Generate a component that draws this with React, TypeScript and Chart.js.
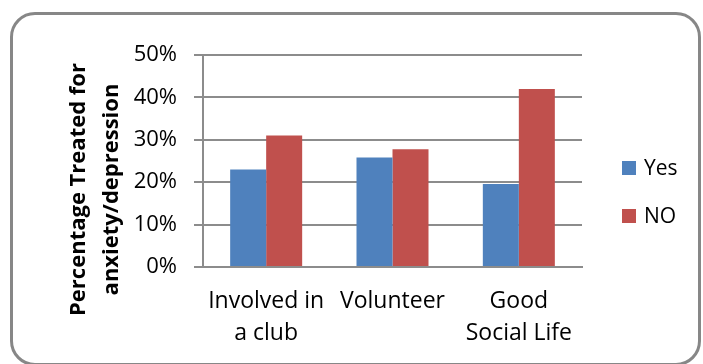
import React, { useEffect, useRef } from 'react';
import { Chart, registerables } from 'chart.js';

Chart.register(...registerables);

const categories: string[][] = [['Involved in', 'a club'], ['Volunteer'], ['Good', 'Social Life']];
const seriesNames = ['Yes', 'NO'];
const yesValues = [23.0, 25.8, 19.6];
const noValues = [31.0, 27.8, 42.0];
const yTickValues = [0, 10, 20, 30, 40, 50];
const yTitleLines = ['Percentage Treated for', 'anxiety/depression'];
const seriesColors = ['#4F81BD', '#C0504D'];

const FONT = "'Open Sans', 'Noto Sans', sans-serif";
const GRID = '#8c8c8c';

const yTitlePlugin = {
  id: 'yTitlePlugin',
  afterDraw(chart: any) {
    const ctx = chart.ctx;
    const area = chart.chartArea;
    const cy = (area.top + chart.height) / 2 - 20;
    ctx.save();
    ctx.fillStyle = '#000';
    ctx.font = `bold 22px ${FONT}`;
    ctx.textAlign = 'center';
    ctx.textBaseline = 'alphabetic';
    const baselines = [area.left - 118, area.left - 85];
    yTitleLines.forEach((line, i) => {
      ctx.save();
      ctx.translate(baselines[i], cy);
      ctx.rotate(-Math.PI / 2);
      ctx.fillText(line, 0, 0);
      ctx.restore();
    });
    ctx.restore();
  },
};

const legendPlugin = {
  id: 'sideLegend',
  afterDraw(chart: any) {
    const ctx = chart.ctx;
    const area = chart.chartArea;
    const x = area.right + 40;
    const mid = (area.top + area.bottom) / 2 + 31;
    const gap = 48;
    ctx.save();
    ctx.font = `21px ${FONT}`;
    ctx.textAlign = 'left';
    ctx.textBaseline = 'middle';
    chart.data.datasets.forEach((ds: any, i: number) => {
      const cy = mid + (i - (chart.data.datasets.length - 1) / 2) * gap;
      ctx.fillStyle = ds.backgroundColor;
      ctx.fillRect(x, cy - 7, 14, 14);
      ctx.fillStyle = '#000';
      ctx.fillText(ds.label, x + 22, cy + 1);
    });
    ctx.restore();
  },
};

export default function App() {
  const ref = useRef<HTMLCanvasElement | null>(null);

  useEffect(() => {
    if (!ref.current) return;
    const chart = new Chart(ref.current, {
      type: 'bar',
      data: {
        labels: categories,
        datasets: [
          { label: seriesNames[0], data: yesValues, backgroundColor: seriesColors[0], borderWidth: 0 },
          { label: seriesNames[1], data: noValues, backgroundColor: seriesColors[1], borderWidth: 0 },
        ],
      },
      options: {
        responsive: false,
        maintainAspectRatio: false,
        animation: false,
        devicePixelRatio: 1,
        layout: { padding: { top: 55, right: 121, bottom: 0, left: 0 } },
        datasets: { bar: { barPercentage: 1, categoryPercentage: 0.57 } },
        plugins: {
          legend: { display: false },
          tooltip: { enabled: false },
          title: { display: false },
        },
        scales: {
          x: {
            grid: { display: false, drawTicks: false },
            border: { display: true, color: GRID, width: 2 },
            ticks: {
              color: '#000',
              font: { family: FONT, size: 23, lineHeight: 1.4 },
              padding: 18,
              maxRotation: 0,
              autoSkip: false,
            },
            afterFit: (s: any) => {
              s.height = 97;
            },
          },
          y: {
            min: 0,
            max: 50,
            afterBuildTicks: (s: any) => {
              s.ticks = yTickValues.map((v) => ({ value: v }));
            },
            grid: { color: GRID, lineWidth: 2, tickLength: 9, drawTicks: true, tickColor: GRID },
            border: { display: true, color: GRID, width: 2 },
            ticks: {
              color: '#000',
              font: { family: FONT, size: 22 },
              padding: 17,
              callback: (v: any) => `${v}%`,
            },
            afterFit: (s: any) => {
              s.width = 203;
            },
          },
        },
      },
      plugins: [yTitlePlugin, legendPlugin],
    });
    return () => chart.destroy();
  }, []);

  return (
    <div style={{ position: 'absolute', left: 0, top: 0, width: 703, height: 364, overflow: 'hidden', background: '#fff' }}>
      <div
        style={{
          position: 'absolute',
          left: 10,
          top: 12,
          width: 691,
          height: 354,
          boxSizing: 'border-box',
          border: '3px solid #878787',
          borderRadius: 25,
        }}
      />
      <canvas ref={ref} width={703} height={364} style={{ position: 'absolute', left: 0, top: 0, width: 703, height: 364 }} />
    </div>
  );
}
